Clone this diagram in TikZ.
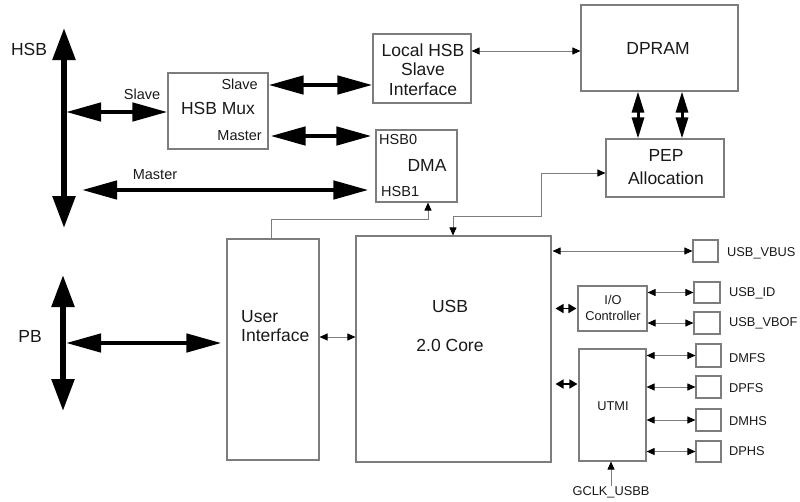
\documentclass[tikz,border=0pt]{standalone}
\usepackage{fontspec}
\setmainfont{Liberation Sans}
\usetikzlibrary{arrows.meta,calc}
\definecolor{boxgray}{RGB}{125,125,125}
\definecolor{txt}{RGB}{25,25,25}
\newcommand\FontBig{\fontsize{17.5}{19.5}\selectfont}
\newcommand\FontMid{\fontsize{14.5}{16}\selectfont}
\newcommand\FontSmall{\fontsize{12.8}{16.5}\selectfont}
\begin{document}
\begin{tikzpicture}[x=1pt,y=-1pt,
  box/.style={draw=boxgray,line width=1.1pt,inner sep=0pt},
  lbl/.style={inner sep=0pt,text=txt},
  busarr/.style={line width=5.5pt,{Triangle[length=32pt,width=22pt]}-{Triangle[length=32pt,width=22pt]}},
  thickarr/.style={line width=4.5pt,{Triangle[length=35pt,width=18pt]}-{Triangle[length=35pt,width=18pt]}},
  midarr/.style={line width=3pt,{Triangle[length=21pt,width=12pt]}-{Triangle[length=21pt,width=12pt]}},
  smallarr/.style={line width=1.6pt,{Triangle[length=8pt,width=9pt]}-{Triangle[length=8pt,width=9pt]}},
  thinarr/.style={draw=boxgray,line width=0.9pt,{Triangle[length=8pt,width=7pt,color=black]}-{Triangle[length=8pt,width=7pt,color=black]}},
  thinone/.style={draw=boxgray,line width=0.9pt,-{Triangle[length=8pt,width=7pt,color=black]}}
]
\useasboundingbox (0,0) rectangle (800,501);

% ---- boxes
\node[box,minimum width=100pt,minimum height=76pt] (mux) at (218,111) {};
\node[box,minimum width=98pt,minimum height=69pt] (lhsb) at (422,68.5) {};
\node[box,minimum width=81pt,minimum height=72pt] (dma) at (416.5,166) {};
\node[box,minimum width=157pt,minimum height=86pt] (dpram) at (659.5,48) {};
\node[box,minimum width=118pt,minimum height=58pt] (pep) at (665,168) {};
\node[box,minimum width=92pt,minimum height=221pt] (ui) at (273,349.5) {};
\node[box,minimum width=195pt,minimum height=226pt] (core) at (453.5,349) {};
\node[box,minimum width=69pt,minimum height=45pt] (io) at (612.5,308.5) {};
\node[box,minimum width=67pt,minimum height=112pt] (utmi) at (612.5,405) {};
\node[box,minimum width=25pt,minimum height=22pt] (vbus) at (705.5,251) {};
\node[box,minimum width=26pt,minimum height=21pt] (usbid) at (707,292.5) {};
\node[box,minimum width=26pt,minimum height=22pt] (vbof) at (707,323) {};
\node[box,minimum width=25pt,minimum height=23pt] (dmfs) at (708.5,355.5) {};
\node[box,minimum width=25pt,minimum height=22pt] (dpfs) at (708.5,387) {};
\node[box,minimum width=25pt,minimum height=22pt] (dmhs) at (708.5,420) {};
\node[box,minimum width=25pt,minimum height=21pt] (dphs) at (708.5,451.5) {};

% ---- texts
\node[lbl] (hsblbl) at (29,49) {\FontBig HSB};
\node[lbl] (pblbl) at (30,336) {\FontBig PB};
\node[lbl] (slvlbl) at (142,94) {\FontMid Slave};
\node[lbl] (mstlbl) at (155,175) {\FontMid Master};
\node[lbl,anchor=east] (muxslave) at (258,84) {\FontMid Slave};
\node[lbl] (muxname) at (218,108) {\FontBig HSB Mux};
\node[lbl,anchor=east] (muxmaster) at (262,136) {\FontMid Master};
\node[lbl,align=center,font=\FontBig] (lhsbtxt) at (423,69.5) {Local HSB\\Slave\\Interface};
\node[lbl,anchor=west] (hsb0) at (379,140) {\FontMid HSB0};
\node[lbl] (dmaname) at (427,165) {\FontBig DMA};
\node[lbl,anchor=west] (hsb1) at (381,192) {\FontMid HSB1};
\node[lbl] (dpramtxt) at (658,48) {\FontBig DPRAM};
\node[lbl,align=center,font=\fontsize{17.5}{23}\selectfont] (peptxt) at (666,167) {PEP\\Allocation};
\node[lbl,align=left,anchor=west,font=\FontBig] (uitxt) at (241,326) {User\\Interface};
\node[lbl] (usbtxt) at (450,306) {\FontBig USB};
\node[lbl] (coretxt) at (450,345) {\FontBig 2.0 Core};
\node[lbl,align=center,font=\FontSmall] (iotxt) at (613,308) {I/O\\Controller};
\node[lbl] (utmitxt) at (613,406) {\FontSmall UTMI};
\node[lbl,anchor=west] (vbuslbl) at (727,253) {\FontSmall USB\_VBUS};
\node[lbl,anchor=west] (idlbl) at (729,293) {\FontSmall USB\_ID};
\node[lbl,anchor=west] (vboflbl) at (729,323) {\FontSmall USB\_VBOF};
\node[lbl,anchor=west] (dmfslbl) at (729,358) {\FontSmall DMFS};
\node[lbl,anchor=west] (dpfslbl) at (729,388) {\FontSmall DPFS};
\node[lbl,anchor=west] (dmhslbl) at (729,421) {\FontSmall DMHS};
\node[lbl,anchor=west] (dphslbl) at (729,451) {\FontSmall DPHS};
\node[lbl] (gclk) at (611,492) {\FontSmall GCLK\_USBB};

% ---- buses
\coordinate (hsbT) at (64,28);
\coordinate (hsbB) at (64,228);
\coordinate (hsbS) at (66,112);
\coordinate (hsbM) at (82,190);
\coordinate (pbT) at (63,275);
\coordinate (pbB) at (63,411);
\coordinate (pbS) at (66,343);
\draw[busarr] (hsbT) -- (hsbB);
\draw[busarr] (pbT) -- (pbB);

% ---- thick arrows
\draw[thickarr] (hsbS) -- (hsbS -| mux.west);
\draw[thickarr] (hsbM) -- ([xshift=-7pt]hsbM -| dma.west);
\draw[thickarr] (mux.east |- 0,85) -- (lhsb.west |- 0,85);
\draw[thickarr] ([xshift=2pt]mux.east |- 0,136) -- ([xshift=-4pt]dma.west |- 0,136);
\draw[thickarr] (pbS) -- ([xshift=-5pt]pbS -| ui.west);
\draw[midarr] (dpram.south -| 638,0) -- (pep.north -| 638,0);
\draw[midarr] (dpram.south -| 682,0) -- (pep.north -| 682,0);

% ---- thin arrows
\draw[thinarr] (lhsb.east |- 0,51) -- (dpram.west |- 0,51);
\draw[thinarr] (ui.east |- 0,337) -- (core.west |- 0,337);
\draw[thinarr] ([xshift=1pt]core.east |- vbus) -- (vbus.west);
\draw[thinarr] (io.east |- usbid) -- (usbid.west);
\draw[thinarr] (io.east |- vbof) -- (vbof.west);
\draw[thinarr] (utmi.east |- dmfs) -- (dmfs.west);
\draw[thinarr] (utmi.east |- dpfs) -- (dpfs.west);
\draw[thinarr] (utmi.east |- dmhs) -- (dmhs.west);
\draw[thinarr] (utmi.east |- dphs) -- (dphs.west);
\draw[smallarr] ([xshift=4pt]core.east |- io) -- ([xshift=-1pt]io.west);
\draw[smallarr] ([xshift=4pt]core.east |- 0,384) -- ([xshift=-1pt]utmi.west |- 0,384);
\draw[thinone] (ui.north -| 271,0) -- (271,219) -- (428,219) -- (dma.south -| 428,0);
\draw[thinarr] (core.north -| 453,0) -- (453,216) -- (541,216) -- (541,173) -- (pep.west |- 0,173);
\draw[thinone] (gclk.north -| 611,0) -- (utmi.south -| 611,0);
\end{tikzpicture}
\end{document}
